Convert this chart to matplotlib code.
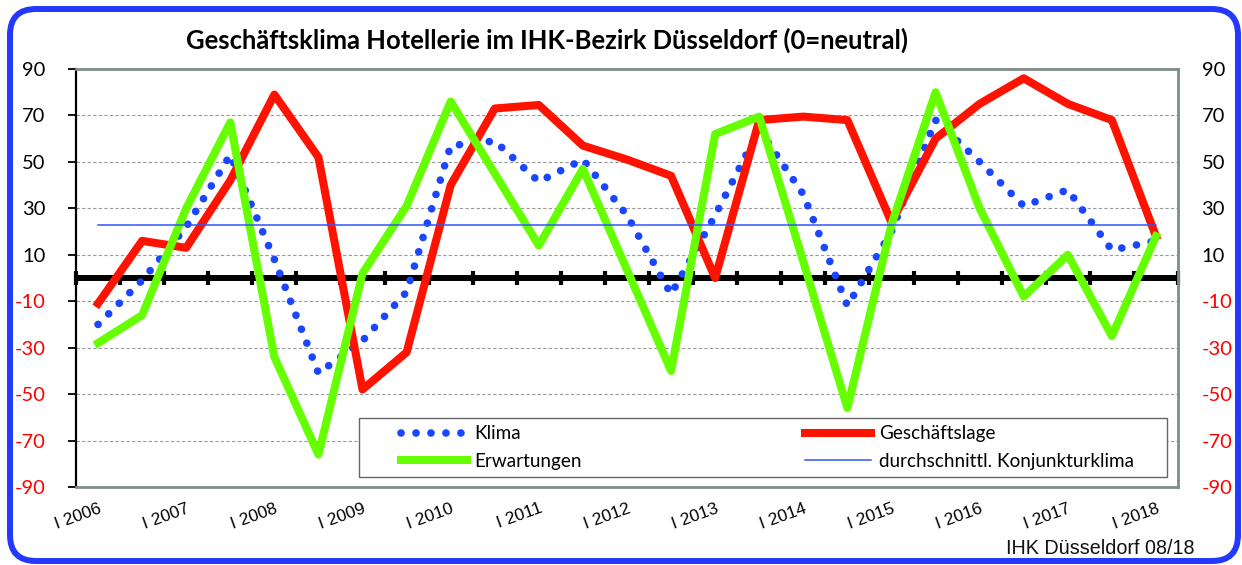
import matplotlib
matplotlib.use("Agg")
import matplotlib.pyplot as plt
import numpy as np
from matplotlib.patches import FancyBboxPatch, Rectangle
from matplotlib.transforms import IdentityTransform

# ---------------- data ----------------
categories = ["I 2006", "II 2006", "I 2007", "II 2007", "I 2008", "II 2008",
              "I 2009", "II 2009", "I 2010", "II 2010", "I 2011", "II 2011",
              "I 2012", "II 2012", "I 2013", "II 2013", "I 2014", "II 2014",
              "I 2015", "II 2015", "I 2016", "II 2016", "I 2017", "II 2017",
              "I 2018"]
klima = [-20, -1, 22, 53, 8, -41, -27, -6, 57, 59, 41.5, 51, 27, -7,
         27, 64, 36, -12, 20, 68, 50, 31, 38, 12, 16]
geschaeftslage = [-11, 16, 13, 42, 79, 52, -48, -32, 40, 73, 74.5, 57, 51, 44,
                  0, 68, 69.5, 68, 24, 60, 75, 86, 75, 68, 18]
erwartungen = [-28, -16, 30, 67, -34, -76, 2, 31, 76, 45, 14, 47, 3.5, -40,
               62, 69.5, 7, -56, 23, 80, 30, -8, 10, -25, 18]
avg_konjunkturklima = 23
y_ticks = [-90, -70, -50, -30, -10, 10, 30, 50, 70, 90]

title = "Geschäftsklima Hotellerie im IHK-Bezirk Düsseldorf (0=neutral)"
source = "IHK Düsseldorf 08/18"

# ---------------- figure ----------------
W, H = 1242, 565
fig = plt.figure(figsize=(W / 100, H / 100), dpi=100)
fig.patch.set_facecolor("white")

ax_l, ax_r, ax_t, ax_b = 76, 1178, 69, 487
ax = fig.add_axes([ax_l / W, 1 - ax_b / H, (ax_r - ax_l) / W, (ax_b - ax_t) / H])

x = np.arange(len(categories))
ax.set_xlim(-0.5, len(categories) - 0.5)
ax.set_ylim(-90, 90)

FONT = ["Lato", "DejaVu Sans"]
ARIAL = ["Liberation Sans", "DejaVu Sans"]

# grid
for yv in y_ticks[1:-1]:
    ax.axhline(yv, color="#9a9a9a", lw=0.8, ls=(0, (3, 2)), zorder=1)

# zero line with category tick marks
ax.axhline(0, color="black", lw=4.3, zorder=1.6)
bounds = np.arange(len(categories) + 1) - 0.5
ax.plot(bounds, np.zeros_like(bounds), ls="none", marker="|", ms=10,
        mew=3, color="black", zorder=1.7, clip_on=False)

# series
l_klima, = ax.plot(x, klima, color="#1b46ff", lw=5.5, ls=(0, (0.01, 1.95)),
                   dash_capstyle="round", zorder=2, label="Klima")
l_lage, = ax.plot(x, geschaeftslage, color="#ff1200", lw=5.8,
                  solid_joinstyle="round", zorder=3, label="Geschäftslage")
l_erw, = ax.plot(x, erwartungen, color="#66ff00", lw=5.8,
                 solid_joinstyle="round", zorder=4, label="Erwartungen")
l_avg, = ax.plot([x[0], x[-1]], [avg_konjunkturklima] * 2, color="#2f55ff",
                 lw=1.1, zorder=5, label="durchschnittl. Konjunkturklima")

# spines
for s in ["top", "right", "bottom"]:
    ax.spines[s].set_color("#7f8c8c")
    ax.spines[s].set_linewidth(2.0)
ax.spines["left"].set_color("black")
ax.spines["left"].set_linewidth(1.6)

# x ticks
ax.set_xticks(x[::2])
ax.set_xticklabels(categories[::2], fontsize=12.5, family=ARIAL)
ax.tick_params(axis="x", length=0, pad=10)
for lab in ax.get_xticklabels():
    lab.set_rotation(20)
    lab.set_ha("right")
    lab.set_va("top")
    lab.set_rotation_mode("anchor")

# y ticks left
ax.set_yticks(y_ticks)
ax.set_yticklabels([str(v) for v in y_ticks], fontsize=14.5, family=FONT)
ax.tick_params(axis="y", length=6, width=1.3, color="black", pad=16)
for lab, v in zip(ax.get_yticklabels(), y_ticks):
    lab.set_color("red" if v < 0 else "black")

# y ticks right
ax2 = ax.twinx()
ax2.set_ylim(-90, 90)
ax2.set_yticks(y_ticks)
ax2.set_yticklabels([str(v) for v in y_ticks], fontsize=14.5, family=FONT)
ax2.tick_params(axis="y", length=0, pad=17)
for lab, v in zip(ax2.get_yticklabels(), y_ticks):
    lab.set_color("red" if v < 0 else "black")
for s in ax2.spines.values():
    s.set_visible(False)

# legend frame
bx0 = (359 - ax_l) / (ax_r - ax_l)
bx1 = (1167 - ax_l) / (ax_r - ax_l)
by0 = (ax_b - 477) / (ax_b - ax_t)
by1 = (ax_b - 418) / (ax_b - ax_t)
ax.add_patch(Rectangle((bx0, by0), bx1 - bx0, by1 - by0, transform=ax.transAxes,
                       facecolor="white", edgecolor="#666666", lw=1.0, zorder=6))
lx0 = (401 - ax_l) / (ax_r - ax_l)
lx1 = (1134 - ax_l) / (ax_r - ax_l)
leg = ax.legend([l_klima, l_erw, l_lage, l_avg],
                ["Klima", "Erwartungen", "Geschäftslage",
                 "durchschnittl. Konjunkturklima"],
                ncol=2, mode="expand", frameon=False, loc="center left",
                bbox_to_anchor=(lx0, by0, lx1 - lx0, by1 - by0),
                borderpad=0, borderaxespad=0, handlelength=3.5,
                handletextpad=0.4, labelspacing=0.55,
                prop={"family": FONT, "size": 13.6})
leg.set_zorder(7)

# title, auto-fitted to reference width
t = fig.text(547 / W, 1 - 40 / H, title, ha="center", va="center",
             fontsize=17, fontweight="bold", family=FONT)
fig.canvas.draw()
wpx = t.get_window_extent().width
t.set_fontsize(17 * 725 / wpx)

# source
fig.text(1195 / W, 1 - 548 / H, source, ha="right", va="center",
         fontsize=14.2, family=ARIAL, color="#111111")

# rounded blue border
border = FancyBboxPatch((10, H - 561), 1228, 552,
                        boxstyle="round,pad=0,rounding_size=26",
                        transform=IdentityTransform(), facecolor="none",
                        edgecolor="#2438ff", lw=4.3, zorder=10)
fig.add_artist(border)

fig.savefig("out.png", dpi=100)
